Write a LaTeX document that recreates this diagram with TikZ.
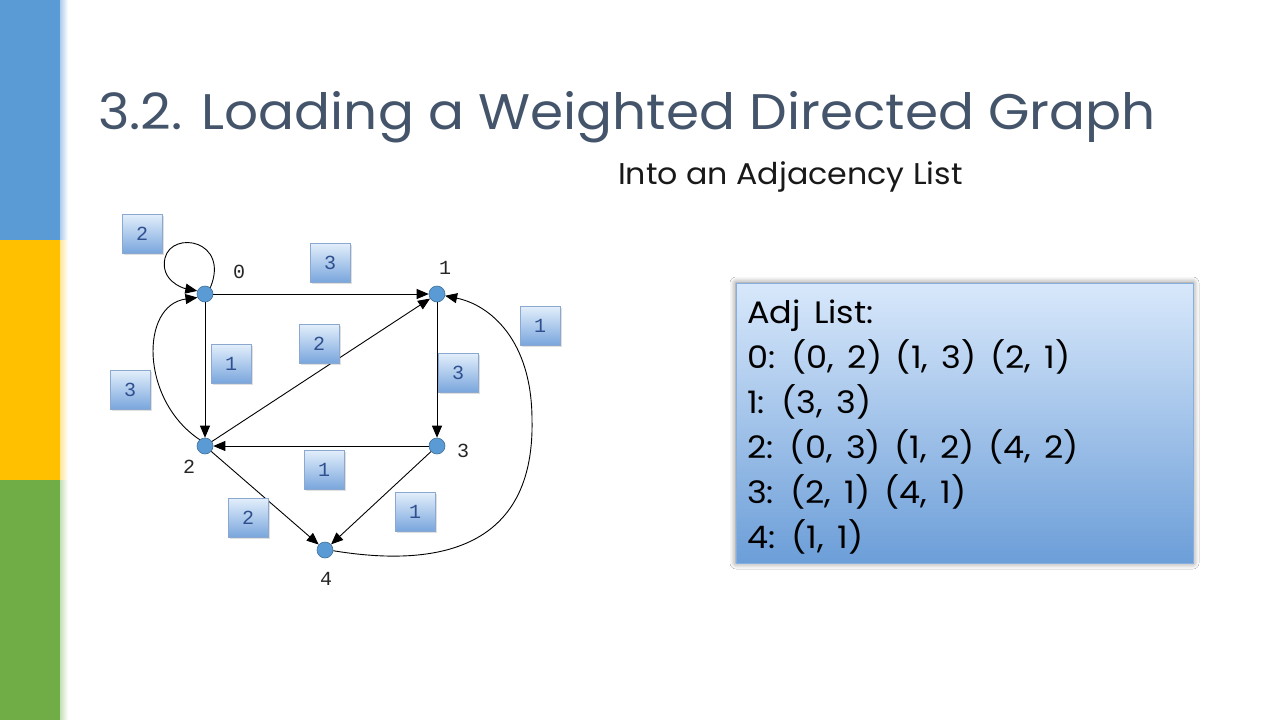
\documentclass[tikz,border=0pt]{standalone}
\usepackage{fontspec}
\usetikzlibrary{arrows.meta,shadows,shadows.blur}
\newfontfamily\gothicfont{Poppins}
\newfontfamily\titlefont{Poppins}[FakeStretch=1.066]
\newfontfamily\subfont{Poppins}[FakeStretch=1.055]
\newfontfamily\adjfont{Poppins}[Numbers=Monospaced,WordSpace=1.5,FakeStretch=1.08]
\newfontfamily\courfont{Liberation Mono}
\definecolor{barblue}{HTML}{5B9BD5}
\definecolor{barorange}{HTML}{FFC000}
\definecolor{bargreen}{HTML}{70AD47}
\definecolor{titlecol}{HTML}{44546A}
\definecolor{vfill}{HTML}{5B9BD5}
\definecolor{vborder}{HTML}{41719C}
\definecolor{wtop}{HTML}{E2EEFB}
\definecolor{wbot}{HTML}{78A5DC}
\definecolor{wborder}{HTML}{8AA8D0}
\definecolor{wtext}{HTML}{2F4F8F}
\definecolor{atop}{HTML}{D8E8FB}
\definecolor{abot}{HTML}{6C9ED8}
\definecolor{aborder}{HTML}{86AEDF}
\begin{document}
\begin{tikzpicture}[x=1pt,y=-1pt,
  vtx/.style={circle,minimum size=16pt,inner sep=0pt,fill=vfill,draw=vborder,line width=0.6pt},
  vlabel/.style={font=\courfont\fontsize{20}{20}\selectfont,text=black!85,inner sep=0pt},
  wbox/.style={minimum width=40pt,minimum height=39pt,inner sep=0pt,top color=wtop,bottom color=wbot,draw=wborder,line width=0.6pt,font=\courfont\fontsize{20}{20}\selectfont,text=wtext,drop shadow={shadow xshift=1.5pt,shadow yshift=-1.5pt,opacity=0.25}},
  edge/.style={line width=0.9pt,-{Triangle[length=12pt,width=10pt]}},
  adjtext/.style={font=\adjfont\fontsize{31}{31}\selectfont,anchor=base west,inner sep=0pt,text=black}]
\useasboundingbox (0,0) rectangle (1280,720);
\fill[white] (0,0) rectangle (1280,720);
% side bars
\fill[barblue] (0,0) rectangle (60,240);
\fill[barorange] (0,240) rectangle (60,480);
\fill[bargreen] (0,480) rectangle (60,720);
\shade[left color=barblue!50,right color=white] (60,0) rectangle (68,240);
\shade[left color=barorange!40,right color=white] (60,240) rectangle (68,480);
\shade[left color=bargreen!40,right color=white] (60,480) rectangle (68,720);
% titles
\node[anchor=base west,inner sep=0pt,text=titlecol,font=\titlefont\fontsize{50}{50}\selectfont] (title) at (98,129) {3.2. Loading a Weighted Directed Graph};
\node[anchor=base west,inner sep=0pt,text=black!90,font=\subfont\fontsize{30}{30}\selectfont] (sub) at (618,184) {Into an Adjacency List};
% vertices
\node[vtx] (n0) at (205,294) {};
\node[vtx] (n1) at (437,294) {};
\node[vtx] (n2) at (205,446) {};
\node[vtx] (n3) at (437,446) {};
\node[vtx] (n4) at (325,550) {};
\node[vlabel] (l0) at (239,272) {0};
\node[vlabel] (l1) at (445,268) {1};
\node[vlabel] (l2) at (189,467) {2};
\node[vlabel] (l3) at (463,451) {3};
\node[vlabel] (l4) at (326,579) {4};
% edges
\draw[edge] (n0) -- (n1);
\draw[edge] (n0) -- (n2);
\draw[edge] (n1) -- (n3);
\draw[edge] (n3) -- (n2);
\draw[edge] (n2) -- (n1);
\draw[edge] (n2) -- (n4);
\draw[edge] (n3) -- (n4);
\draw[edge] (n0.50) .. controls (230,240) and (172,230) .. (165,258) .. controls (160,280) and (182,288) .. (n0.158);
\draw[edge] (n2.130) .. controls (140,400) and (140,305) .. (n0.205);
\draw[edge] (n4.-5) .. controls (420,565) and (535,560) .. (532,420) .. controls (532,340) and (490,305) .. (n1.-12);
% weights
\node[wbox] (w1) at (142,234) {2};
\node[wbox] (w2) at (330,263) {3};
\node[wbox] (w3) at (540,326) {1};
\node[wbox] (w4) at (319,344) {2};
\node[wbox] (w5) at (231,364) {1};
\node[wbox] (w6) at (130,390) {3};
\node[wbox] (w7) at (458,373) {3};
\node[wbox] (w8) at (324,470) {1};
\node[wbox] (w9) at (415,512) {1};
\node[wbox] (w10) at (248,518) {2};
% adjacency list box
\node[draw=aborder,line width=0.8pt,top color=atop,bottom color=abot,minimum width=457pt,minimum height=280pt,inner sep=0pt,
  blur shadow={shadow xshift=0pt,shadow yshift=0pt,shadow blur radius=6pt,shadow opacity=55}] (adj) at (964.5,423) {};
\node[adjtext] (a0) at (747,323) {Adj List:};
\node[adjtext] (a1) at (747,368) {0: (0, 2) (1, 3) (2, 1)};
\node[adjtext] (a2) at (747,413) {1: (3, 3)};
\node[adjtext] (a3) at (747,458) {2: (0, 3) (1, 2) (4, 2)};
\node[adjtext] (a4) at (747,503) {3: (2, 1) (4, 1)};
\node[adjtext] (a5) at (747,548) {4: (1, 1)};
\end{tikzpicture}
\end{document}
